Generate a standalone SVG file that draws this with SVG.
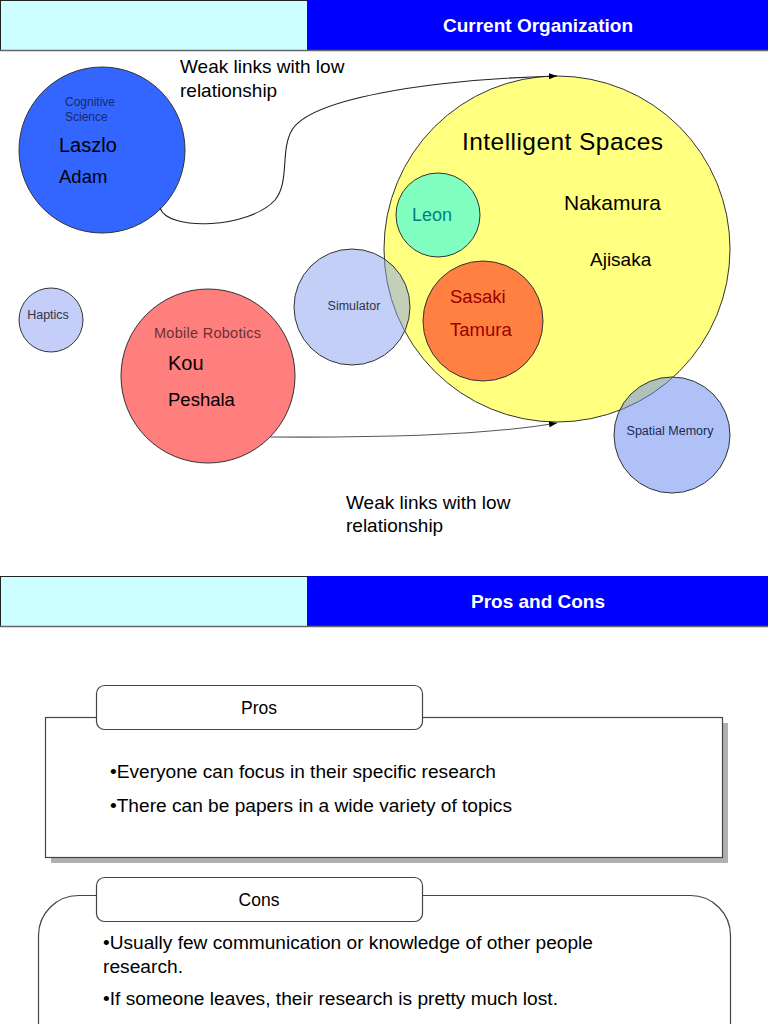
<svg xmlns="http://www.w3.org/2000/svg" width="768" height="1024" viewBox="0 0 768 1024">
<defs>
<style>
text{font-family:"Liberation Sans",Arial,sans-serif}
.c{stroke:#333;stroke-width:1}
.hdr{font-weight:bold;fill:#fff;font-size:19px}
.link{fill:none;stroke:#222;stroke-width:1.1}
.lbl{font-size:19px;fill:#000}
.box{fill:#fff;stroke:#444;stroke-width:1.2}
.bt{font-size:17.5px;fill:#000}
</style>
<marker id="arr" markerWidth="8" markerHeight="6" refX="8" refY="3" orient="auto" markerUnits="userSpaceOnUse">
<path d="M0,0 L8,3 L0,6 z" fill="#000"/>
</marker>
</defs>
<rect width="768" height="1024" fill="#fff"/>

<g id="header1">
<rect x="0.5" y="0.5" width="307" height="50" fill="#CCFFFF" stroke="#222" stroke-width="1"/>
<rect x="307" y="0" width="461" height="51" fill="#0000FF"/>
<line x1="0" y1="50.5" x2="768" y2="50.5" stroke="#666" stroke-width="1.5"/>
<text class="hdr" x="538" y="32" text-anchor="middle">Current Organization</text>
</g>

<g id="intelligent-spaces">
<circle class="c" cx="557" cy="249" r="173" fill="#FFFF80"/>
<text x="462" y="150" font-size="24.5" fill="#000" textLength="201">Intelligent Spaces</text>
<text x="564" y="210" font-size="21" fill="#000">Nakamura</text>
<text x="590" y="266" font-size="19" fill="#000">Ajisaka</text>
</g>

<g id="leon">
<circle class="c" cx="438" cy="215" r="42" fill="#80FFC0"/>
<text x="412" y="221" font-size="18" fill="#007F7F">Leon</text>
</g>

<g id="sasaki-tamura">
<circle class="c" cx="483" cy="321" r="60" fill="#FF8040"/>
<text x="450" y="303" font-size="18.5" fill="#990000">Sasaki</text>
<text x="450" y="336" font-size="18.5" fill="#990000">Tamura</text>
</g>

<g id="simulator">
<circle class="c" cx="352" cy="307" r="58" fill="#8AA0F0" fill-opacity="0.5"/>
<text x="354" y="310" font-size="12.5" fill="#333344" text-anchor="middle">Simulator</text>
</g>

<g id="spatial-memory">
<circle class="c" cx="672" cy="435" r="58" fill="#6688EE" fill-opacity="0.52"/>
<text x="670" y="435" font-size="12.5" fill="#1a2a55" text-anchor="middle">Spatial Memory</text>
</g>

<g id="cognitive-science">
<circle class="c" cx="102" cy="150" r="83" fill="#3366FF"/>
<text x="65" y="106" font-size="12" fill="#1a2a66">Cognitive</text>
<text x="65" y="121" font-size="12" fill="#1a2a66">Science</text>
<text x="59" y="152" font-size="20" fill="#000">Laszlo</text>
<text x="59" y="183" font-size="18.5" fill="#000">Adam</text>
</g>

<g id="haptics">
<circle class="c" cx="51" cy="320" r="32" fill="#C4CEF8"/>
<text x="48" y="319" font-size="12.5" fill="#333344" text-anchor="middle">Haptics</text>
</g>

<g id="mobile-robotics">
<circle class="c" cx="208" cy="376" r="87" fill="#FF7F7F"/>
<text x="154" y="338" font-size="14.5" fill="#663333" textLength="107">Mobile Robotics</text>
<text x="168" y="370" font-size="20" fill="#000">Kou</text>
<text x="168" y="406" font-size="18.5" fill="#000">Peshala</text>
</g>

<g id="connectors">
<path class="link" d="M160,208 C168,232 250,228 275,200 C290,182 280,150 292,130 C310,100 420,80 557,76" marker-end="url(#arr)"/>
<path class="link" d="M270,437 C400,438 500,433 557,423" style="stroke:#555" marker-end="url(#arr)"/>
</g>

<g id="label-top">
<text class="lbl" x="180" y="73">Weak links with low</text>
<text class="lbl" x="180" y="97">relationship</text>
</g>
<g id="label-bottom">
<text class="lbl" x="346" y="509">Weak links with low</text>
<text class="lbl" x="346" y="532">relationship</text>
</g>

<g id="header2">
<rect x="0.5" y="576.5" width="307" height="50" fill="#CCFFFF" stroke="#222" stroke-width="1"/>
<rect x="307" y="576" width="461" height="51" fill="#0000FF"/>
<line x1="0" y1="626.5" x2="768" y2="626.5" stroke="#666" stroke-width="1.5"/>
<text class="hdr" x="538" y="608" text-anchor="middle">Pros and Cons</text>
</g>

<g id="pros">
<rect x="51" y="723" width="677" height="140" fill="#B0B0B0"/>
<rect class="box" x="45.5" y="717.5" width="677" height="140"/>
<rect class="box" x="96.5" y="685.5" width="326" height="44" rx="8"/>
<text class="bt" x="259" y="714" text-anchor="middle">Pros</text>
<text class="bt" x="110" y="778" textLength="386" lengthAdjust="spacingAndGlyphs">•Everyone can focus in their specific research</text>
<text class="bt" x="110" y="812" textLength="402" lengthAdjust="spacingAndGlyphs">•There can be papers in a wide variety of topics</text>
</g>

<g id="cons">
<rect class="box" x="38.5" y="895.5" width="692" height="200" rx="40"/>
<rect class="box" x="96.5" y="877.5" width="326" height="44" rx="8"/>
<text class="bt" x="259" y="906" text-anchor="middle">Cons</text>
<text class="bt" x="103" y="949" textLength="490" lengthAdjust="spacingAndGlyphs">•Usually few communication or knowledge of other people</text>
<text class="bt" x="103" y="973" textLength="80" lengthAdjust="spacingAndGlyphs">research.</text>
<text class="bt" x="103" y="1005" textLength="455" lengthAdjust="spacingAndGlyphs">•If someone leaves, their research is pretty much lost.</text>
</g>
</svg>
